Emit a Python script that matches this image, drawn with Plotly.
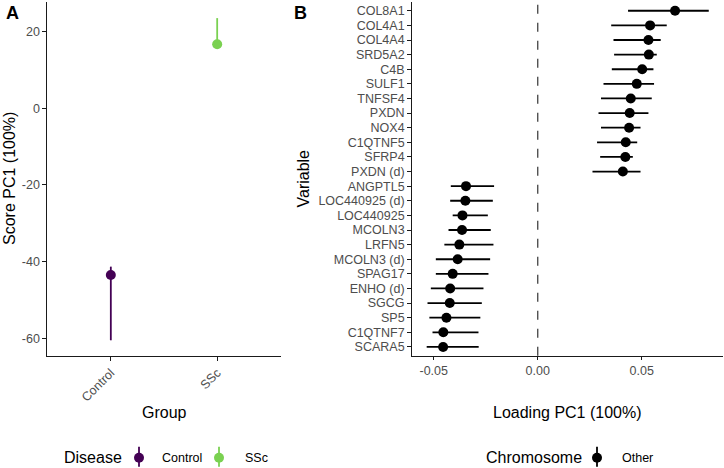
import plotly.graph_objects as go

# Panel A data
groups = ["Control", "SSc"]
score = [-43.5, 16.7]
score_lo = [-60.5, 16.7]
score_hi = [-41.3, 23.5]
group_colors = ["#440154", "#7AD151"]

# Panel B data
variables = ["COL8A1", "COL4A1", "COL4A4", "SRD5A2", "C4B", "SULF1", "TNFSF4", "PXDN",
             "NOX4", "C1QTNF5", "SFRP4", "PXDN (d)", "ANGPTL5", "LOC440925 (d)", "LOC440925",
             "MCOLN3", "LRFN5", "MCOLN3 (d)", "SPAG17", "ENHO (d)", "SGCG", "SP5", "C1QTNF7", "SCARA5"]
loading = [0.0660, 0.0540, 0.0532, 0.0534, 0.0502, 0.0476, 0.0447, 0.0442,
           0.0439, 0.0423, 0.0421, 0.0409, -0.0345, -0.0348, -0.0362,
           -0.0364, -0.0377, -0.0385, -0.0409, -0.0421, -0.0423, -0.0439, -0.0454, -0.0455]
load_lo = [0.0434, 0.0353, 0.0364, 0.0367, 0.0356, 0.0316, 0.0304, 0.0292,
           0.0304, 0.0285, 0.0300, 0.0263, -0.0418, -0.0421, -0.0409,
           -0.0429, -0.0449, -0.0490, -0.0490, -0.0514, -0.0530, -0.0521, -0.0506, -0.0534]
load_hi = [0.0822, 0.0620, 0.0591, 0.0572, 0.0556, 0.0559, 0.0548, 0.0532,
           0.0494, 0.0478, 0.0457, 0.0494, -0.0210, -0.0216, -0.0240,
           -0.0226, -0.0213, -0.0229, -0.0237, -0.0261, -0.0269, -0.0276, -0.0285, -0.0284]
x_ticks_b = [-0.05, 0.0, 0.05]
x_ticklabels_b = ["-0.05", "0.00", "0.05"]
y_ticks_a = [-60, -40, -20, 0, 20]
y_ticklabels_a = ["-60", "-40", "-20", "0", "20"]

FONT = "Liberation Sans, Arial, sans-serif"
TICKCOL = "#4D4D4D"
AXCOL = "#1a1a1a"
H = 468.0
W = 724.0

fig = go.Figure()

for i, g in enumerate(groups):
    fig.add_trace(go.Scatter(
        x=[g], y=[score[i]], mode="markers", name=g, showlegend=False,
        marker=dict(color=group_colors[i], size=10),
        error_y=dict(type="data", symmetric=False,
                     array=[score_hi[i] - score[i]], arrayminus=[score[i] - score_lo[i]],
                     color=group_colors[i], thickness=1.8, width=0),
        xaxis="x", yaxis="y"))

fig.add_trace(go.Scatter(
    x=loading, y=variables, mode="markers", name="Other", showlegend=False,
    marker=dict(color="black", size=10),
    error_x=dict(type="data", symmetric=False,
                 array=[h - v for h, v in zip(load_hi, loading)],
                 arrayminus=[v - l for v, l in zip(loading, load_lo)],
                 color="black", thickness=1.8, width=0),
    xaxis="x2", yaxis="y2"))

ybot_a = (H - 356) / H
ytop = (H - 2) / H
ybot_b = (H - 355.7) / H

axis_common = dict(showline=True, linecolor=AXCOL, linewidth=1.2, ticks="outside",
                   ticklen=3.5, tickwidth=1.1, tickcolor=AXCOL, showgrid=False, zeroline=False,
                   tickfont=dict(family=FONT, size=12.5, color=TICKCOL))

n = len(variables)


def px_x(v):
    return v / W


def px_y(v):
    return (H - v) / H


annotations = []


def add_text(text, x, y, size, xanchor="left", angle=0, bold=False):
    annotations.append(dict(text=("<b>%s</b>" % text) if bold else text,
                            x=px_x(x), y=px_y(y), xref="paper", yref="paper",
                            xanchor=xanchor, yanchor="middle", showarrow=False,
                            textangle=angle,
                            font=dict(family=FONT, size=size, color="black")))


# panel tags
add_text("A", 4, 12.5, 18, bold=True)
add_text("B", 292, 12.5, 18, bold=True)
# axis titles
add_text("Group", 164, 412, 16, xanchor="center")
add_text("Loading PC1 (100%)", 567, 412, 16, xanchor="center")
add_text("Score PC1 (100%)", 9.5, 178.5, 16, xanchor="center", angle=-90)
add_text("Variable", 303, 178.5, 16, xanchor="center", angle=-90)
# legends
legend_y = 457.7
add_text("Disease", 62, legend_y, 16)
add_text("Control", 160, legend_y, 12.5)
add_text("SSc", 243, legend_y, 12.5)
add_text("Chromosome", 484, legend_y, 16)
add_text("Other", 620, legend_y, 12.5)

shapes = [dict(type="line", xref="x2", yref="y2 domain", x0=0, x1=0, y0=0, y1=1,
               line=dict(color="#333333", width=1.2, dash="dash"), layer="below")]

legend_keys = [(139, group_colors[0]), (219, group_colors[1]), (597, "black")]
for kx, col in legend_keys:
    shapes.append(dict(type="line", xref="paper", yref="paper",
                       x0=px_x(kx), x1=px_x(kx), y0=px_y(446.7), y1=px_y(466.7),
                       line=dict(color=col, width=1.8)))
    shapes.append(dict(type="circle", xref="paper", yref="paper",
                       xsizemode="pixel", ysizemode="pixel",
                       xanchor=px_x(kx), yanchor=px_y(legend_y),
                       x0=-5, x1=5, y0=-5, y1=5,
                       fillcolor=col, line=dict(color=col, width=0)))

fig.update_layout(
    width=724, height=468,
    margin=dict(l=0, r=0, t=0, b=0),
    plot_bgcolor="white", paper_bgcolor="white",
    font=dict(family=FONT, color="black"),
    showlegend=False,
    xaxis=dict(domain=[47 / W, 281 / W], anchor="y", type="category",
               categoryorder="array", categoryarray=groups,
               range=[-0.6, 1.6], tickangle=-45, **axis_common),
    yaxis=dict(domain=[ybot_a, ytop], anchor="x", range=[-64.6, 27.7],
               tickvals=y_ticks_a, ticktext=y_ticklabels_a, **axis_common),
    xaxis2=dict(domain=[411.7 / W, 722.7 / W], anchor="y2", range=[-0.0606, 0.0889],
                tickvals=x_ticks_b, ticktext=x_ticklabels_b, **axis_common),
    yaxis2=dict(domain=[ybot_b, ytop], anchor="x2", type="category",
                categoryorder="array", categoryarray=variables,
                tickmode="array", tickvals=variables, ticktext=variables,
                range=[n - 1 + 0.6, -0.6], **axis_common),
    shapes=shapes,
    annotations=annotations,
)

fig.write_html("out.html", config={"displayModeBar": False},
               post_script="document.body.style.margin='0';document.body.style.overflow='hidden';")
